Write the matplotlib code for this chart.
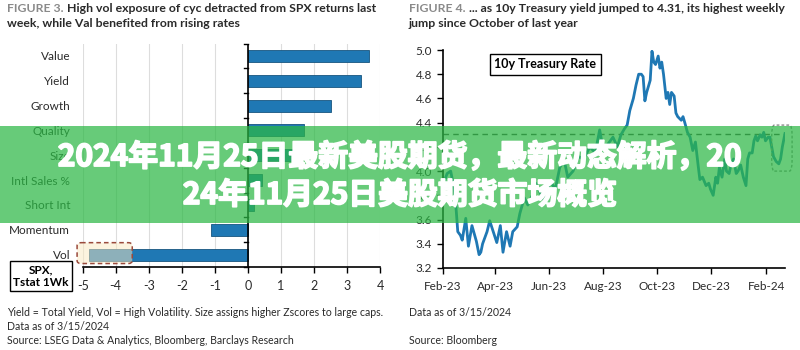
import matplotlib
matplotlib.use("Agg")
import matplotlib.pyplot as plt
import matplotlib.dates as mdates
import matplotlib.patheffects as pe
from matplotlib.patches import Rectangle, FancyBboxPatch
import numpy as np
import pandas as pd

# --- Figure 3: factor t-stats, last week ---
factors = ["Value", "Yield", "Growth", "Quality", "Size", "Intl Sales %",
           "Short Int", "Momentum", "Vol"]
tstat_1wk = [3.68, 3.42, 2.52, 1.71, 1.37, 0.42, 0.19, -1.11, -4.80]
tstat_ticks = [-5, -4, -3, -2, -1, 0, 1, 2, 3, 4]

# --- Figure 4: 10y Treasury rate (days after 2023-02-01) ---
day_offsets = [0, 5, 9, 13, 15, 17, 20, 22, 26, 29, 33, 38, 41, 43, 45, 50, 53, 57,
               61, 65, 68, 72, 76, 79, 84, 87, 92, 96, 101, 105, 110, 115, 121, 127,
               132, 137, 141, 147, 153, 159, 166, 172, 177, 181, 186, 192, 197, 201,
               205, 208, 211, 215, 218, 221, 224, 226, 228, 230, 234, 236, 238, 240,
               243, 245, 247, 249, 252, 254, 256, 258, 261, 263, 265, 269, 271, 273,
               276, 279, 282, 285, 288, 290, 293, 297, 300, 302, 305, 308, 310, 312,
               315, 318, 320, 323, 325, 328, 331, 333, 336, 339, 342, 344, 346, 349,
               351, 353, 355, 358, 360, 362, 364, 367, 369, 371, 373, 376, 379, 381,
               383, 386]
ten_year = [3.88, 3.98, 4.00, 3.85, 3.70, 3.50, 3.47, 3.43, 3.61, 3.38, 3.55, 3.42,
            3.31, 3.33, 3.40, 3.50, 3.59, 3.50, 3.41, 3.55, 3.33, 3.50, 3.38, 3.50,
            3.54, 3.65, 3.78, 3.72, 3.80, 3.90, 3.82, 3.75, 3.92, 3.85, 4.03, 4.09,
            3.95, 4.00, 4.12, 4.10, 4.20, 4.15, 4.34, 4.18, 4.22, 4.28, 4.20, 4.30,
            4.35, 4.38, 4.50, 4.60, 4.71, 4.80, 4.80, 4.78, 4.58, 4.65, 4.75, 4.99,
            4.90, 4.88, 4.95, 4.85, 4.90, 4.80, 4.60, 4.65, 4.55, 4.65, 4.62, 4.48,
            4.45, 4.42, 4.45, 4.40, 4.32, 4.28, 4.17, 4.24, 4.05, 3.93, 3.95, 3.88,
            3.90, 3.85, 3.80, 3.95, 3.90, 4.03, 3.95, 4.10, 4.00, 3.98, 4.05, 4.10,
            3.98, 4.00, 4.05, 3.95, 3.88, 4.10, 4.15, 4.15, 4.25, 4.29, 4.25, 4.30,
            4.28, 4.32, 4.25, 4.28, 4.28, 4.20, 4.12, 4.08, 4.06, 4.10, 4.20, 4.31]
month_ticks = ["2023-02-01", "2023-04-01", "2023-06-01", "2023-08-01",
               "2023-10-01", "2023-12-01", "2024-02-01"]
month_labels = ["Feb-23", "Apr-23", "Jun-23", "Aug-23", "Oct-23", "Dec-23", "Feb-24"]
yield_ticks = [3.2, 3.4, 3.6, 3.8, 4.0, 4.2, 4.4, 4.6, 4.8, 5.0]
latest_yield = 4.31

banner_lines = ["2024年11月25日最新美股期货，最新动态解析，20",
                "24年11月25日美股期货市场概览"]

BLUE = "#1f78b4"
DARK = "#2a2a2a"
GRAY = "#8a8a8a"
TITLE_FS = 8.8
NOTE_FS = 7.6

plt.rcParams["font.family"] = ["Lato", "DejaVu Sans"]

fig = plt.figure(figsize=(8, 3.5), dpi=100)


def fx(px):
    return px / 800


def fy(py):
    return 1 - py / 350


# ---------------- left panel ----------------
ax_l = fig.add_axes([fx(82.7), fy(267), fx(380 - 82.7), (267 - 43.5) / 350])
ypos = np.arange(len(factors))
ax_l.barh(ypos, tstat_1wk, height=0.48, color=BLUE, edgecolor="#17557f",
          linewidth=0.6, zorder=3)
ax_l.set_xlim(tstat_ticks[0], tstat_ticks[-1])
ax_l.set_ylim(len(factors) - 0.5, -0.5)
ax_l.set_xticks(tstat_ticks)
ax_l.set_xticklabels([str(v) for v in tstat_ticks], fontsize=9, color=DARK)
ax_l.set_yticks(ypos)
ax_l.set_yticklabels(factors, fontsize=8.5, color=DARK)
ax_l.tick_params(axis="y", length=0, pad=9)
ax_l.tick_params(axis="x", length=4, width=1, direction="out", pad=5)
ax_l.grid(axis="x", color="#dddddd", linewidth=0.8, zorder=0)
for s in ["top", "right", "left"]:
    ax_l.spines[s].set_visible(False)
ax_l.spines["bottom"].set_linewidth(1.2)
ax_l.axvline(0, color="black", linewidth=1.2, zorder=4)
for b in np.arange(len(factors) + 1) - 0.5:
    ax_l.plot([-0.12, 0], [b, b], color="black", linewidth=1, zorder=4, clip_on=False)

# highlight around Vol
vol_i = factors.index("Vol")
ax_l.add_patch(FancyBboxPatch((-5.17, vol_i - 0.48), 1.67, 0.84,
                              boxstyle="round,pad=0,rounding_size=0.12",
                              facecolor="#fbe9c0", alpha=0.5, edgecolor="none",
                              zorder=5, clip_on=False))
ax_l.add_patch(FancyBboxPatch((-5.17, vol_i - 0.48), 1.67, 0.84,
                              boxstyle="round,pad=0,rounding_size=0.12",
                              facecolor="none", edgecolor="#9a4a3c", linewidth=1.1,
                              linestyle=(0, (3, 2)), zorder=6, clip_on=False))

fig.text(fx(41), fy(276), "SPX,\nTstat 1Wk", ha="center", va="center",
         fontsize=8.5, fontweight="bold", color="black", linespacing=1.25,
         bbox=dict(boxstyle="square,pad=0.25", fc="white", ec="black", lw=1))

t3 = fig.text(fx(7), fy(12), "FIGURE 3.", color=GRAY, fontsize=TITLE_FS,
              fontweight="bold", va="baseline", ha="left")
ax_l.annotate(" High vol exposure of cyc detracted from SPX returns last",
              xy=(1, 0), xycoords=t3, va="bottom", ha="left", color=DARK,
              fontsize=TITLE_FS, fontweight="bold")
fig.text(fx(7), fy(27), "week, while Val benefited from rising rates", color=DARK,
         fontsize=TITLE_FS, fontweight="bold", va="baseline", ha="left")

for i, line in enumerate([
        "Yield = Total Yield, Vol = High Volatility. Size assigns higher Zscores to large caps.",
        "Data as of 3/15/2024",
        "Source: LSEG Data & Analytics, Bloomberg, Barclays Research"]):
    fig.text(fx(7), fy(312 + 14 * i), line, fontsize=NOTE_FS, color=DARK,
             ha="left", va="center")

# ---------------- right panel ----------------
start = pd.Timestamp("2023-02-01")
dates = start + pd.to_timedelta(day_offsets, unit="D")
ax_r = fig.add_axes([fx(442.7), fy(268), fx(785 - 442.7), (268 - 50) / 350])
ax_r.plot(dates, ten_year, color=BLUE, linewidth=2, zorder=3)
ax_r.axhline(latest_yield, color="#444444", linewidth=1, linestyle=(0, (4, 3)),
             zorder=2)
ax_r.set_xlim(dates[0], dates[-1])
ax_r.set_ylim(yield_ticks[0], yield_ticks[-1])
ax_r.set_yticks(yield_ticks)
ax_r.set_yticklabels([f"{v:.1f}" for v in yield_ticks], fontsize=8.5, color=DARK)
ax_r.set_xticks(pd.to_datetime(month_ticks))
ax_r.set_xticklabels(month_labels, fontsize=8.5, color=DARK)
ax_r.tick_params(length=4, width=1, direction="out")
ax_r.tick_params(axis="x", pad=5)
for s in ["top", "right"]:
    ax_r.spines[s].set_visible(False)
for s in ["left", "bottom"]:
    ax_r.spines[s].set_linewidth(1.2)

ax_r.text(0.30, 0.935, "10y Treasury Rate", transform=ax_r.transAxes,
          fontsize=9, fontweight="bold", color="black", ha="center", va="center",
          bbox=dict(boxstyle="square,pad=0.35", fc="white", ec="black", lw=1))

box_x0 = mdates.date2num(start + pd.Timedelta(days=371))
box_x1 = mdates.date2num(start + pd.Timedelta(days=394))
ax_r.add_patch(FancyBboxPatch((box_x0, 4.0), box_x1 - box_x0, 0.38,
                              boxstyle="round,pad=0,rounding_size=3",
                              facecolor="none", edgecolor="#8a8a8a", linewidth=1,
                              linestyle=(0, (2, 1.5)), zorder=5, clip_on=False,
                              mutation_aspect=0.03))

t4 = fig.text(fx(409), fy(12), "FIGURE 4.", color=GRAY, fontsize=TITLE_FS,
              fontweight="bold", va="baseline", ha="left")
ax_r.annotate(" ... as 10y Treasury yield jumped to 4.31, its highest weekly",
              xy=(1, 0), xycoords=t4, va="bottom", ha="left", color=DARK,
              fontsize=TITLE_FS, fontweight="bold")
fig.text(fx(409), fy(27), "jump since October of last year", color=DARK,
         fontsize=TITLE_FS, fontweight="bold", va="baseline", ha="left")

fig.text(fx(409), fy(312), "Data as of 3/15/2024", fontsize=NOTE_FS, color=DARK,
         ha="left", va="center")
fig.text(fx(409), fy(340), "Source: Bloomberg", fontsize=NOTE_FS, color=DARK,
         ha="left", va="center")

# ---------------- green banner ----------------
fig.patches.append(Rectangle((0, fy(223)), 1, (223 - 126) / 350,
                             transform=fig.transFigure, facecolor="#2cb845",
                             alpha=0.72, edgecolor="none", zorder=10))
for line, yc in zip(banner_lines, [157, 195]):
    fig.text(0.5, fy(yc), line, ha="center", va="center", color="white",
             fontsize=21.5, fontweight="bold",
             family=["Noto Sans CJK SC", "DejaVu Sans"], zorder=11,
             path_effects=[pe.withStroke(linewidth=1.3, foreground="white")])

fig.savefig("out.png", dpi=100)
